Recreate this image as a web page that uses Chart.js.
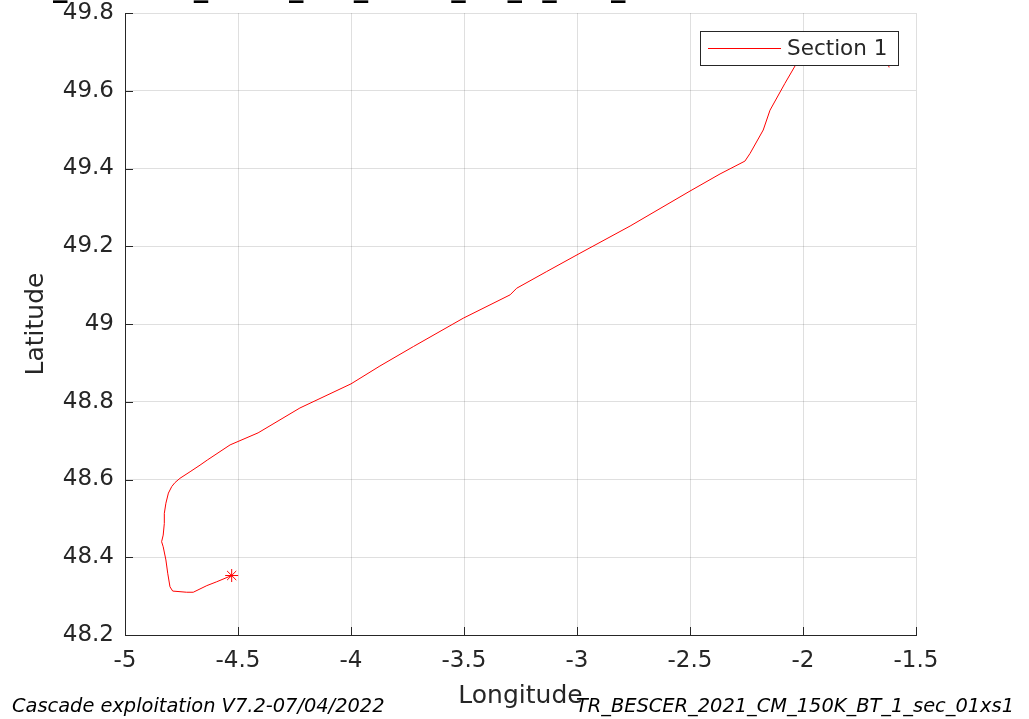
<!DOCTYPE html>
<html>
<head>
<meta charset="utf-8">
<script src="https://cdn.jsdelivr.net/npm/chart.js@4/dist/chart.umd.min.js"></script>
<style>
  html, body { margin: 0; padding: 0; background: #ffffff; }
  #wrap { width: 1029px; height: 719px; }
</style>
</head>
<body>
<div id="wrap"><canvas id="c" width="1029" height="719"></canvas></div>
<script>
// ---- data ----
const seriesName = 'Section 1';
const lon = [-4.528, -4.594, -4.638, -4.698, -4.727, -4.789, -4.801, -4.811, -4.819, -4.831,
             -4.838, -4.831, -4.826, -4.826, -4.819, -4.808, -4.793, -4.779, -4.757, -4.712,
             -4.668, -4.636, -4.535, -4.411, -4.226, -4.000, -3.872, -3.724, -3.503, -3.296,
             -3.267, -3.134, -2.987, -2.765, -2.500, -2.367, -2.257, -2.234, -2.176, -2.146,
             -2.080, -2.035, -1.991, -1.880, -1.748, -1.633, -1.619];
const lat = [48.353, 48.337, 48.327, 48.310, 48.310, 48.313, 48.324, 48.359, 48.393, 48.427,
             48.440, 48.457, 48.487, 48.513, 48.539, 48.565, 48.582, 48.592, 48.603, 48.620,
             48.637, 48.650, 48.689, 48.720, 48.784, 48.846, 48.892, 48.942, 49.015, 49.075,
             49.092, 49.135, 49.182, 49.252, 49.342, 49.386, 49.419, 49.439, 49.499, 49.550,
             49.619, 49.664, 49.710, 49.743, 49.725, 49.689, 49.660];
const startLon = [-4.528];
const startLat = [48.353];
const xTicks = [-5, -4.5, -4, -3.5, -3, -2.5, -2, -1.5];
const yTicks = [48.2, 48.4, 48.6, 48.8, 49, 49.2, 49.4, 49.6, 49.8];
const xLabel = 'Longitude';
const yLabel = 'Latitude';
const titleText = 'TR_BESCER_2021_CM_150K_BT_1_sec_01xs1';
const footLeft = 'Cascade exploitation V7.2-07/04/2022';
const footRight = 'TR_BESCER_2021_CM_150K_BT_1_sec_01xs1';

const AX = '#262626';
const GRID = 'rgba(38,38,38,0.15)';
const FONT = "'DejaVu Sans', sans-serif";

const trackPts = lon.map((v, i) => ({ x: v, y: lat[i] }));
const startPts = startLon.map((v, i) => ({ x: v, y: startLat[i] }));

const extras = {
  id: 'extras',
  afterDatasetsDraw(chart) {
    const ctx = chart.ctx;
    const ca = chart.chartArea;
    const xs = chart.scales.x, ys = chart.scales.y;
    ctx.save();
    // inward ticks
    ctx.strokeStyle = AX;
    ctx.lineWidth = 1;
    ctx.beginPath();
    yTicks.forEach(t => {
      const py = Math.round(ys.getPixelForValue(t)) + 0.5;
      ctx.moveTo(ca.left, py); ctx.lineTo(ca.left + 8, py);
    });
    xTicks.forEach(t => {
      const px = Math.round(xs.getPixelForValue(t)) + 0.5;
      ctx.moveTo(px, ca.bottom); ctx.lineTo(px, ca.bottom - 8);
    });
    ctx.stroke();
    // legend box
    const lx = 700.5, ly = 31.5, lw = 198, lh = 34;
    ctx.fillStyle = '#ffffff';
    ctx.fillRect(lx, ly, lw, lh);
    ctx.strokeStyle = AX;
    ctx.strokeRect(lx, ly, lw, lh);
    ctx.strokeStyle = '#ff0000';
    ctx.beginPath();
    ctx.moveTo(708, 48.5); ctx.lineTo(781, 48.5);
    ctx.stroke();
    ctx.fillStyle = AX;
    ctx.font = '21.5px ' + FONT;
    ctx.textAlign = 'left';
    ctx.textBaseline = 'middle';
    ctx.fillText(seriesName, 787, 49);
    ctx.restore();
  },
  afterDraw(chart) {
    const ctx = chart.ctx;
    ctx.save();
    // clipped title (only underscores visible)
    ctx.fillStyle = '#000000';
    ctx.font = 'bold 29px ' + FONT;
    ctx.textAlign = 'left';
    ctx.textBaseline = 'alphabetic';
    ctx.fillText(titleText, 11, -4.5);
    // footers
    ctx.fillStyle = '#000000';
    ctx.font = 'italic 19.4px ' + FONT;
    ctx.textAlign = 'left';
    ctx.fillText(footLeft, 12, 712);
    ctx.textAlign = 'right';
    ctx.fillText(footRight, 1014, 712);
    ctx.restore();
  }
};

new Chart(document.getElementById('c'), {
  type: 'scatter',
  data: {
    datasets: [
      {
        label: seriesName,
        data: trackPts,
        showLine: true,
        borderColor: '#ff0000',
        backgroundColor: '#ff0000',
        borderWidth: 1,
        pointRadius: 0,
        tension: 0,
        order: 2
      },
      {
        label: 'start',
        data: startPts,
        showLine: false,
        pointStyle: 'star',
        pointRadius: 6.5,
        borderColor: '#ff0000',
        backgroundColor: '#ff0000',
        borderWidth: 1,
        order: 1
      }
    ]
  },
  options: {
    responsive: false,
    animation: false,
    devicePixelRatio: 1,
    layout: { padding: { top: 13, right: 113, left: 0, bottom: 0 } },
    plugins: {
      legend: { display: false },
      tooltip: { enabled: false }
    },
    scales: {
      x: {
        type: 'linear',
        min: -5, max: -1.5,
        afterBuildTicks: s => { s.ticks = xTicks.map(v => ({ value: v })); },
        afterFit: s => { s.height = 84; s.paddingLeft = 0; s.paddingRight = 0; },
        grid: { color: GRID, drawTicks: false },
        border: { color: AX, width: 1 },
        ticks: {
          color: AX, padding: 12,
          font: { family: FONT, size: 23 },
          maxRotation: 0,
          callback: v => String(v)
        },
        title: {
          display: true, text: xLabel, color: AX,
          font: { family: FONT, size: 25 },
          padding: { top: 0, bottom: 8 }
        }
      },
      y: {
        type: 'linear',
        min: 48.2, max: 49.8,
        afterBuildTicks: s => { s.ticks = yTicks.map(v => ({ value: v })); },
        afterFit: s => { s.width = 125; s.paddingTop = 0; s.paddingBottom = 0; },
        grid: { color: GRID, drawTicks: false },
        border: { color: AX, width: 1 },
        ticks: {
          color: AX, padding: 11,
          font: { family: FONT, size: 23 },
          callback: v => String(Math.round(v * 10) / 10)
        },
        title: {
          display: true, text: yLabel, color: AX,
          font: { family: FONT, size: 25 },
          padding: { top: 21, bottom: 0 }
        }
      }
    }
  },
  plugins: [extras]
});
</script>
</body>
</html>
